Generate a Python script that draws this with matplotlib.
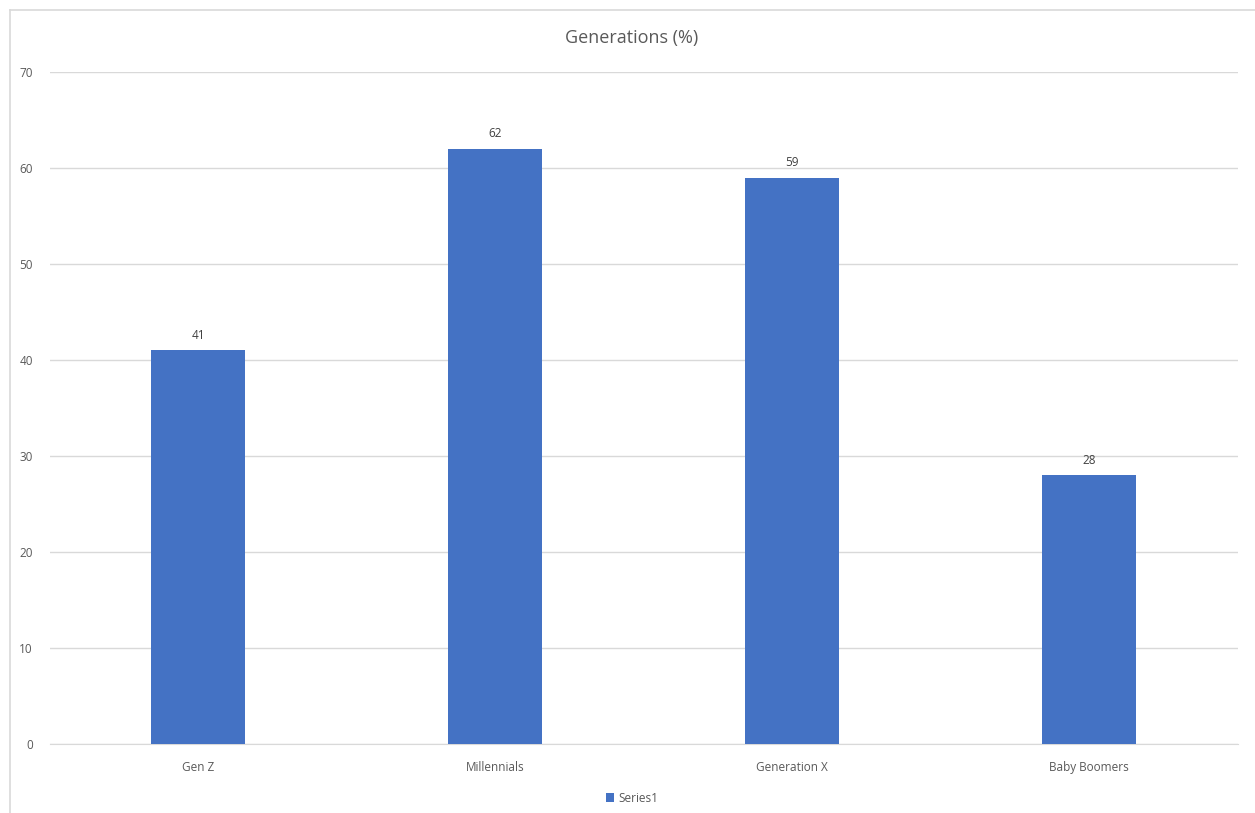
import matplotlib
matplotlib.use("Agg")
import matplotlib.pyplot as plt
from matplotlib.lines import Line2D

# data
categories = ["Gen Z", "Millennials", "Generation X", "Baby Boomers"]
values = [41, 62, 59, 28]
series_name = "Series1"

plt.rcParams['font.family'] = ['Open Sans', 'DejaVu Sans']

fig = plt.figure(figsize=(12.55, 8.13), dpi=100)
ax = fig.add_axes([49.5/1255, 1-744/813, (1237.5-49.5)/1255, (744-72)/813])

bar_color = "#4472C4"
text_color = "#595959"
x = range(len(categories))
bars = ax.bar(x, values, width=0.317, color=bar_color, label=series_name, zorder=3)

for b, v in zip(bars, values):
    ax.annotate(str(v), (b.get_x() + b.get_width()/2, v), xytext=(0, 6),
                textcoords="offset points", ha="center", va="bottom",
                fontsize=8.5, color="#404040")

ax.set_xlim(-0.5, len(categories) - 0.5)
ax.set_ylim(0, 70)
ax.set_yticks(range(0, 71, 10))
ax.set_xticks(list(x))
ax.set_xticklabels(categories)
ax.yaxis.grid(True, color="#D9D9D9", linewidth=1, zorder=0)
for s in ["top", "right", "left"]:
    ax.spines[s].set_visible(False)
ax.spines["bottom"].set_color("#D9D9D9")
ax.tick_params(axis="both", length=0, colors=text_color, labelsize=8.5)
ax.tick_params(axis="y", pad=12)
ax.tick_params(axis="x", pad=12)

fig.text(632/1255, 1-38/813, "Generations (%)", ha="center", va="center",
         fontsize=13, color=text_color)

fig.legend(handles=[bars], labels=[series_name], loc="center",
           bbox_to_anchor=(632/1255, 1-798/813), frameon=False,
           fontsize=8.5, labelcolor=text_color, handlelength=0.7,
           handleheight=0.7, handletextpad=0.3)

# chart border (only top and left edges show in the crop)
fig.add_artist(Line2D([10/1255, 10/1255], [0, 1-10/813], transform=fig.transFigure,
                      color="#D9D9D9", linewidth=1.2))
fig.add_artist(Line2D([10/1255, 1], [1-10/813, 1-10/813], transform=fig.transFigure,
                      color="#D9D9D9", linewidth=1.2))

fig.savefig("out.png", dpi=100)
